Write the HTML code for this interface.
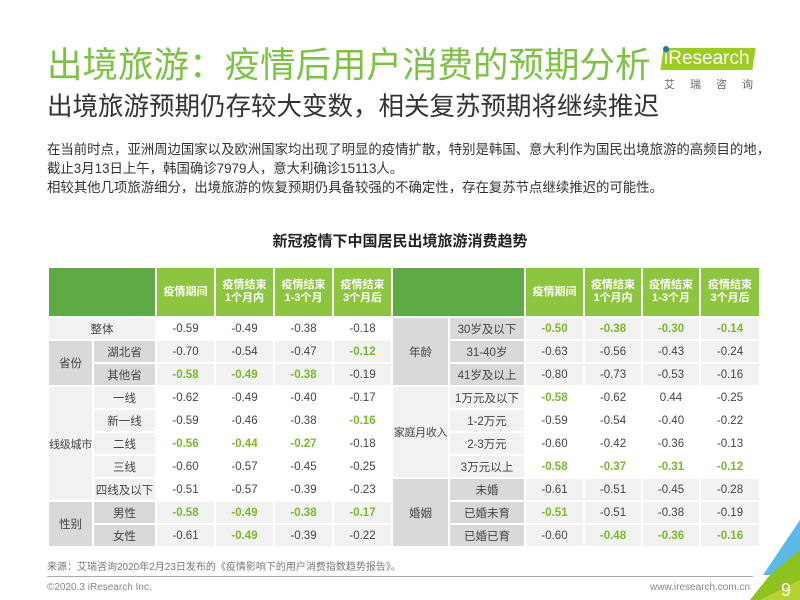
<!DOCTYPE html>
<html><head><meta charset="utf-8">
<style>
*{margin:0;padding:0;box-sizing:border-box}
body{width:800px;height:600px;background:#fff;position:relative;overflow:hidden;font-family:"Liberation Sans","Noto Sans CJK SC",sans-serif;color:#333}
.abs{position:absolute;white-space:nowrap}
table{position:absolute;left:47px;top:266px;border-collapse:collapse;table-layout:fixed}
td{border:2px solid #fff;text-align:center;font-size:11.5px;color:#444;height:23px;padding:0;white-space:nowrap;overflow:hidden}
tr.h td{height:50px;font-weight:bold;color:#fff;font-size:11px;line-height:13px;background:#8cc63f}
tr.h td.dk{background:#5eab45}
td.sm{font-size:11px;letter-spacing:-0.3px}
.g{background:#d9d9d9}
.l{background:#f2f2f2}
.w{background:#fff}
.gr{color:#7ab928;font-weight:bold}
</style></head><body>
<div class="abs" style="left:47px;top:43px;font-size:35.5px;color:#7dc243;line-height:44px">出境旅游：疫情后用户消费的预期分析</div>
<div class="abs" style="left:662px;top:48px;width:92px;height:22px;background:#9ccc1e;transform:skewX(-8deg)"></div>
<div class="abs" style="left:664px;top:49px;font-size:19px;color:#fff;line-height:20px">iResearch</div>
<div class="abs" style="left:663px;top:46px;width:6px;height:6px;border-radius:3px;background:#1e73be"></div>
<div class="abs" style="left:664px;top:76px;font-size:11px;color:#666;letter-spacing:15px">艾瑞咨询</div>
<div class="abs" style="left:47px;top:92px;font-size:25.5px;color:#333;line-height:30px">出境旅游预期仍存较大变数，相关复苏预期将继续推迟</div>
<div class="abs" style="left:47px;top:140px;font-size:13.4px;line-height:19px;color:#333">在当前时点，亚洲周边国家以及欧洲国家均出现了明显的疫情扩散，特别是韩国、意大利作为国民出境旅游的高频目的地，<br>截止3月13日上午，韩国确诊7979人，意大利确诊15113人。<br>相较其他几项旅游细分，出境旅游的恢复预期仍具备较强的不确定性，存在复苏节点继续推迟的可能性。</div>
<div class="abs" style="left:0;width:800px;text-align:center;top:230px;font-size:15px;font-weight:bold;color:#222">新冠疫情下中国居民出境旅游消费趋势</div>
<table>
<colgroup><col style="width:45px"><col style="width:63px"><col style="width:59px"><col style="width:59px"><col style="width:59px"><col style="width:59px"><col style="width:57px"><col style="width:76px"><col style="width:59px"><col style="width:58px"><col style="width:58px"><col style="width:60px"></colgroup>
<tr class="h"><td colspan="2" class="dk"></td><td>疫情期间</td><td>疫情结束<br>1个月内</td><td>疫情结束<br>1-3个月</td><td>疫情结束<br>3个月后</td><td colspan="2" class="dk"></td><td>疫情期间</td><td>疫情结束<br>1个月内</td><td>疫情结束<br>1-3个月</td><td>疫情结束<br>3个月后</td></tr>
<tr><td colspan="2" class="l">整体</td><td class="w">-0.59</td><td class="w">-0.49</td><td class="w">-0.38</td><td class="w">-0.18</td>
<td rowspan="3" class="g">年龄</td><td class="g">30岁及以下</td><td class="l gr">-0.50</td><td class="l gr">-0.38</td><td class="l gr">-0.30</td><td class="l gr">-0.14</td></tr>
<tr><td rowspan="2" class="g">省份</td><td class="g">湖北省</td><td class="l">-0.70</td><td class="l">-0.54</td><td class="l">-0.47</td><td class="l gr">-0.12</td>
<td class="g">31-40岁</td><td class="l">-0.63</td><td class="l">-0.56</td><td class="l">-0.43</td><td class="l">-0.24</td></tr>
<tr><td class="g">其他省</td><td class="l gr">-0.58</td><td class="l gr">-0.49</td><td class="l gr">-0.38</td><td class="l">-0.19</td>
<td class="g">41岁及以上</td><td class="l">-0.80</td><td class="l">-0.73</td><td class="l">-0.53</td><td class="l">-0.16</td></tr>
<tr><td rowspan="5" class="l sm">线级城市</td><td class="l">一线</td><td class="w">-0.62</td><td class="w">-0.49</td><td class="w">-0.40</td><td class="w">-0.17</td>
<td rowspan="4" class="l sm">家庭月收入</td><td class="l">1万元及以下</td><td class="w gr">-0.58</td><td class="w">-0.62</td><td class="w">0.44</td><td class="w">-0.25</td></tr>
<tr><td class="l">新一线</td><td class="w">-0.59</td><td class="w">-0.46</td><td class="w">-0.38</td><td class="w gr">-0.16</td>
<td class="l">1-2万元</td><td class="w">-0.59</td><td class="w">-0.54</td><td class="w">-0.40</td><td class="w">-0.22</td></tr>
<tr><td class="l">二线</td><td class="w gr">-0.56</td><td class="w gr">-0.44</td><td class="w gr">-0.27</td><td class="w">-0.18</td>
<td class="l">2-3万元</td><td class="w">-0.60</td><td class="w">-0.42</td><td class="w">-0.36</td><td class="w">-0.13</td></tr>
<tr><td class="l">三线</td><td class="w">-0.60</td><td class="w">-0.57</td><td class="w">-0.45</td><td class="w">-0.25</td>
<td class="l">3万元以上</td><td class="w gr">-0.58</td><td class="w gr">-0.37</td><td class="w gr">-0.31</td><td class="w gr">-0.12</td></tr>
<tr><td class="l">四线及以下</td><td class="w">-0.51</td><td class="w">-0.57</td><td class="w">-0.39</td><td class="w">-0.23</td>
<td rowspan="3" class="g">婚姻</td><td class="g">未婚</td><td class="l">-0.61</td><td class="l">-0.51</td><td class="l">-0.45</td><td class="l">-0.28</td></tr>
<tr><td rowspan="2" class="g">性别</td><td class="g">男性</td><td class="l gr">-0.58</td><td class="l gr">-0.49</td><td class="l gr">-0.38</td><td class="l gr">-0.17</td>
<td class="g">已婚未育</td><td class="l gr">-0.51</td><td class="l">-0.51</td><td class="l">-0.38</td><td class="l">-0.19</td></tr>
<tr><td class="g">女性</td><td class="l">-0.61</td><td class="l gr">-0.49</td><td class="l">-0.39</td><td class="l">-0.22</td>
<td class="g">已婚已育</td><td class="l">-0.60</td><td class="l gr">-0.48</td><td class="l gr">-0.36</td><td class="l gr">-0.16</td></tr>
</table>
<div class="abs" style="left:47px;top:558px;font-size:10px;color:#777">来源：艾瑞咨询2020年2月23日发布的《疫情影响下的用户消费指数趋势报告》。</div>
<div class="abs" style="left:47px;top:576px;width:706px;height:1px;background:#aaa"></div>
<div class="abs" style="left:47px;top:582px;font-size:10px;color:#888">©2020.3 iResearch Inc.</div>
<div class="abs" style="left:650px;top:582px;width:100px;text-align:right;font-size:10px;color:#888">www.iresearch.com.cn</div>
<svg class="abs" style="left:745px;top:520px" width="55" height="80"><polygon points="55,0 55,55 18,55" fill="#5bbbe6"/><polygon points="55,30 55,80 5,80 25,55" fill="#8dc21f"/><polygon points="55,60 55,80 15,80" fill="#b5d334"/><text x="36" y="76" font-size="18" fill="#fff" font-family="Liberation Sans">9</text></svg>
</body></html>
